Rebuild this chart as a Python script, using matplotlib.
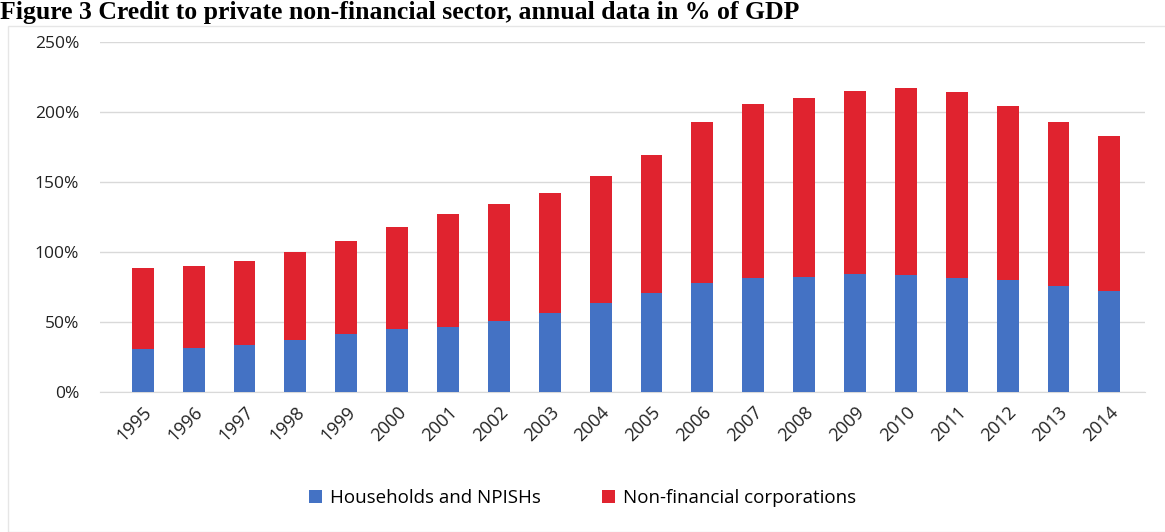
import matplotlib.pyplot as plt
from matplotlib.patches import Rectangle
from matplotlib.ticker import FuncFormatter

years = ['1995', '1996', '1997', '1998', '1999', '2000', '2001', '2002', '2003', '2004',
         '2005', '2006', '2007', '2008', '2009', '2010', '2011', '2012', '2013', '2014']
households = [30.7, 31.4, 33.6, 37.0, 41.4, 45.0, 46.4, 50.7, 56.4, 63.6,
              70.7, 78.0, 81.4, 82.0, 84.3, 83.6, 81.4, 80.0, 75.7, 72.0]
total = [88.6, 90.0, 93.6, 100.0, 108.0, 118.0, 127.0, 134.0, 142.0, 154.0,
         169.0, 193.0, 206.0, 210.0, 215.0, 217.0, 214.0, 204.0, 193.0, 183.0]
corporations = [t - h for t, h in zip(total, households)]

plt.rcParams['font.family'] = ['Open Sans', 'DejaVu Sans']

fig = plt.figure(figsize=(11.65, 5.32), dpi=100)
ax = fig.add_axes([100 / 1165, 1 - 392 / 532, 1045 / 1165, 350 / 532])

x = range(len(years))
ax.bar(x, households, width=0.43, color='#4472C4', label='Households and NPISHs', zorder=3)
ax.bar(x, corporations, width=0.43, bottom=households, color='#E0232F',
       label='Non-financial corporations', zorder=3)

ax.set_ylim(0, 250)
ax.set_xlim(-0.84, 19.7)
ax.set_yticks([0, 50, 100, 150, 200, 250])
ax.yaxis.set_major_formatter(FuncFormatter(lambda v, p: f'{int(v)}%'))
ax.grid(axis='y', color='#d9d9d9', linewidth=1, zorder=0)
for s in ['top', 'right', 'left']:
    ax.spines[s].set_visible(False)
ax.spines['bottom'].set_color('#d9d9d9')
ax.tick_params(axis='both', length=0, labelsize=12.5, colors='#222222')
ax.tick_params(axis='y', pad=15)
ax.set_xticks(list(x))
ax.set_xticklabels(years, rotation=45, ha='right', rotation_mode='anchor', fontsize=13)
ax.tick_params(axis='x', pad=8)

fig.legend(loc='center', bbox_to_anchor=(0.5, 1 - 498 / 532), ncol=2, frameon=False,
           fontsize=13.5, handlelength=0.7, handleheight=0.7, handletextpad=0.4,
           columnspacing=3.3)

fig.patches.append(Rectangle((8 / 1165, 0), 1.2, 1 - 26 / 532, transform=fig.transFigure,
                             fill=False, edgecolor='#e6e6e6', linewidth=1))

fig.text(0.0, 0.999, 'Figure 3 Credit to private non-financial sector, annual data in % of GDP',
         family='Liberation Serif', fontweight='bold', fontsize=18.5, va='top', ha='left')

fig.savefig('out.png', dpi=100)
